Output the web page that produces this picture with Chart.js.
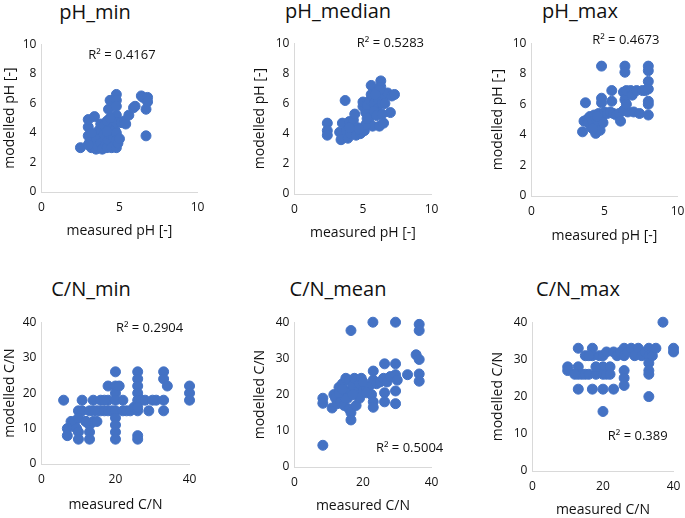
<!DOCTYPE html>
<html>
<head>
<meta charset="UTF-8">
<title>Measured vs modelled pH and C/N</title>
<script src="https://cdn.jsdelivr.net/npm/chart.js@4.4.0/dist/chart.umd.min.js"></script>
<style>
  html, body { margin: 0; padding: 0; background: #fff; overflow: hidden; }
  body { width: 685px; height: 518px; position: relative; font-family: 'Open Sans', sans-serif; }
  .box { position: absolute; }
  .ttl { position: absolute; font-size: 20px; line-height: 1; color: #111; white-space: nowrap; transform: translate(-50%, -50%); }
</style>
</head>
<body>
<script>
// ---- data ----
const panelTitles = ['pH_min', 'pH_median', 'pH_max', 'C/N_min', 'C/N_mean', 'C/N_max'];
const r2Labels = ['R² = 0.4167', 'R² = 0.5283', 'R² = 0.4673', 'R² = 0.2904', 'R² = 0.5004', 'R² = 0.389'];

const phXTicks = [0, 5, 10];
const phYTicks = [0, 2, 4, 6, 8, 10];
const cnXTicks = [0, 20, 40];
const cnYTicks = [0, 10, 20, 30, 40];

const phMinMeasured = [2.5, 3.0, 3.0, 3.0, 3.1, 3.2, 3.3, 3.4, 3.5, 3.5, 3.6, 3.7, 3.8, 3.8, 3.9, 4.0, 4.0, 4.1, 4.2, 4.2,
  4.3, 4.3, 4.4, 4.4, 4.5, 4.5, 4.6, 4.7, 4.8, 4.8, 4.8, 4.8, 4.8, 4.8, 4.8, 4.8, 4.9, 5.0, 5.1, 5.3,
  5.4, 5.6, 5.9, 6.0, 6.4, 6.5, 6.7, 6.8, 6.8, 6.7, 3.0, 3.2, 4.2, 4.4];
const phMinModelled = [3.0, 3.8, 4.4, 4.9, 3.4, 3.0, 3.2, 5.1, 2.9, 3.6, 3.1, 4.2, 4.6, 3.3, 2.9, 3.9, 4.5, 3.2, 3.0, 4.8,
  3.5, 5.6, 6.2, 3.9, 4.3, 3.0, 3.7, 4.2, 6.6, 6.2, 5.8, 5.2, 4.7, 4.0, 3.5, 3.0, 3.3, 3.6, 4.7, 4.8,
  4.6, 5.2, 5.7, 5.8, 6.5, 6.4, 5.6, 6.4, 6.1, 3.8, 3.2, 4.0, 4.1, 5.0];

const phMedMeasured = [2.4, 2.4, 2.4, 3.3, 3.4, 3.5, 3.7, 3.8, 3.9, 4.0, 4.1, 4.2, 4.3, 4.4, 4.5, 4.6, 4.8, 4.9, 5.0, 5.0,
  5.1, 5.2, 5.3, 5.4, 5.5, 5.5, 5.6, 5.6, 5.7, 5.8, 5.9, 6.0, 6.0, 6.1, 6.2, 6.3, 6.3, 6.4, 6.5, 6.6,
  6.8, 7.0, 7.1, 7.3, 5.2, 4.0, 5.8, 6.2, 5.3, 4.7, 6.0, 6.6, 5.9, 6.4];
const phMedModelled = [4.7, 4.2, 3.9, 4.1, 3.6, 4.7, 6.2, 4.2, 3.7, 4.8, 4.0, 4.5, 4.9, 5.3, 3.9, 4.4, 4.0, 4.1, 5.8, 6.1,
  4.2, 5.4, 5.9, 4.8, 6.2, 5.1, 7.2, 6.6, 4.5, 6.0, 5.3, 6.8, 5.6, 6.3, 4.5, 7.5, 7.1, 6.0, 4.7, 6.5,
  6.7, 5.4, 6.5, 6.6, 4.6, 4.4, 5.5, 6.9, 5.0, 4.3, 5.2, 6.0, 6.6, 5.3];

const phMaxMeasured = [3.5, 3.6, 3.7, 3.8, 3.9, 4.0, 4.1, 4.2, 4.3, 4.4, 4.4, 4.5, 4.6, 4.7, 4.8, 4.8, 4.8, 4.8, 4.9, 5.0,
  5.2, 5.4, 5.5, 5.5, 5.6, 5.8, 6.0, 6.1, 6.3, 6.3, 6.4, 6.4, 6.4, 6.5, 6.6, 6.8, 6.9, 7.0, 7.2, 7.4,
  7.6, 7.8, 8.0, 8.0, 8.0, 8.0, 8.0, 8.0, 8.0, 4.5, 4.2, 6.5];
const phMaxModelled = [4.2, 4.9, 6.1, 5.0, 4.8, 5.2, 4.5, 4.9, 5.3, 4.1, 5.1, 4.6, 5.4, 4.3, 8.5, 6.4, 6.1, 5.0, 4.8, 5.5,
  5.4, 5.5, 6.9, 6.2, 5.4, 5.3, 5.4, 4.9, 5.6, 6.8, 8.5, 8.1, 6.3, 6.9, 5.5, 6.9, 6.6, 5.5, 6.9, 5.4,
  6.9, 6.9, 8.5, 8.2, 7.5, 7.0, 6.2, 6.0, 5.3, 5.2, 4.4, 6.0];

const cnMinMeasured = [6, 7, 7, 8, 8.5, 9, 9.5, 10, 10, 10, 11, 11, 12, 13, 13, 13, 13, 14, 14, 15,
  15, 16, 16, 17, 18, 18, 18, 19, 20, 20, 20, 20, 20, 20, 20, 20, 20, 21, 22, 23,
  24, 25, 26, 26, 26, 26, 26, 26, 26, 26, 27, 28, 29, 31, 33, 33, 33, 33, 34, 40,
  40, 40, 10, 12, 14, 17, 22, 26, 30];
const cnMinModelled = [18, 10, 8, 12, 11, 12, 10, 15, 9, 7, 18, 15, 12, 15, 11, 9, 7, 18, 12, 12,
  15, 18, 15, 15, 22, 18, 15, 15, 26, 22, 20, 18, 15, 13, 11, 9, 7, 22, 15, 15,
  15, 16, 26, 24, 22, 20, 18, 15, 8, 7, 18, 18, 15, 18, 26, 24, 18, 15, 22, 22,
  20, 18, 13, 12, 15, 18, 18, 16, 18];

const cnMeanMeasured = [8.3, 8.3, 8.3, 11, 11.5, 12, 12.5, 13, 13.5, 14, 14, 14.5, 15, 15, 15.5, 16, 16, 16.5, 16.5, 16.5,
  17, 17.5, 18, 18.5, 19, 19.5, 20, 21, 22, 22.5, 22.9, 23, 23, 23, 23, 24, 25, 26, 26.3, 26.3,
  26.3, 27, 28, 29.5, 29.5, 29.5, 29.5, 29.5, 30, 33, 35.5, 36.4, 36.4, 36.4, 36.4, 36.4, 15, 19, 13, 21,
  17, 14, 20];
const cnMeanModelled = [6, 19, 17.6, 16.3, 20, 19, 17.5, 22, 18, 23, 20, 17, 24.5, 21, 19, 24, 16, 37.7, 15, 13,
  22.5, 24.5, 17, 21, 23, 24.5, 21, 22, 22.5, 20, 40, 26.5, 24, 18, 16.5, 23, 23.5, 24.5, 28.5, 20.5,
  18, 23.5, 25, 40, 28.5, 25.5, 21, 17.5, 24, 25.5, 31, 39.4, 37.7, 29.7, 25.7, 23.7, 19, 19, 20.5, 20.5,
  20, 21.5, 23.5];

const cnMaxMeasured = [10, 10, 13, 13, 13, 13, 14, 15, 15, 16, 17, 17, 17, 18, 19, 20, 20, 20, 20, 20,
  21, 21, 22, 22, 23, 23, 24, 25, 26, 26, 26, 26, 26, 27, 28, 29, 30, 31, 32, 33,
  33, 33, 33, 33, 33, 34, 35, 37, 40, 40, 12, 18, 16];
const cnMaxModelled = [28, 27, 33, 28, 26, 22, 26, 31, 26, 26, 33, 31, 22, 26, 31, 31, 28, 26, 22, 16,
  32, 26, 28, 26, 32, 22, 31, 32, 33, 31, 27, 25, 23, 32, 33, 31, 33, 31, 32, 33,
  31, 29, 27, 26, 20, 31, 33, 40, 33, 32, 26, 28, 31];

// ---- layout of the six panels (pixels in the 685x518 page) ----
// L/R/T/B = plot area, yt = centre of y title, xt = centre of x title, tx/ty = panel title centre
// rx/ry = R² label centre as a fraction of the plot area
const frames = [
  {L: 41,  R: 198, T: 44,  B: 192, yt: 10,  xt: 231, tx: 95,  ty: 12,  rx: 0.516, ry: 0.074},
  {L: 294, R: 432, T: 43,  B: 194, yt: 260, xt: 233, tx: 338, ty: 11,  rx: 0.70,  ry: 0.0},
  {L: 531, R: 678, T: 43,  B: 196, yt: 498, xt: 236, tx: 580, ty: 11,  rx: 0.646, ry: -0.02},
  {L: 41,  R: 190, T: 322, B: 464, yt: 10,  xt: 505, tx: 91,  ty: 289, rx: 0.73,  ry: 0.042},
  {L: 294, R: 432, T: 322, B: 467, yt: 260, xt: 506, tx: 338, ty: 289, rx: 0.84,  ry: 0.87},
  {L: 532, R: 674, T: 322, B: 471, yt: 498, xt: 510, tx: 578, ty: 289, rx: 0.746, ry: 0.765}
];

const panels = [
  {xs: phMinMeasured,  ys: phMinModelled,  xt: phXTicks, yt: phYTicks, xl: 'measured pH [-]', yl: 'modelled pH [-]'},
  {xs: phMedMeasured,  ys: phMedModelled,  xt: phXTicks, yt: phYTicks, xl: 'measured pH [-]', yl: 'modelled pH [-]'},
  {xs: phMaxMeasured,  ys: phMaxModelled,  xt: phXTicks, yt: phYTicks, xl: 'measured pH [-]', yl: 'modelled pH [-]'},
  {xs: cnMinMeasured,  ys: cnMinModelled,  xt: cnXTicks, yt: cnYTicks, xl: 'measured C/N', yl: 'modelled C/N'},
  {xs: cnMeanMeasured, ys: cnMeanModelled, xt: cnXTicks, yt: cnYTicks, xl: 'measured C/N', yl: 'modelled C/N'},
  {xs: cnMaxMeasured,  ys: cnMaxModelled,  xt: cnXTicks, yt: cnYTicks, xl: 'measured C/N', yl: 'modelled C/N'}
];

const FONT = "'Open Sans', sans-serif";
const TEXT = '#111';
const AXIS = '#d9d9d9';
const DOT = '#4472c4';
const PAD_T = 12, PAD_R = 14, HALF_TITLE = 8.4;

Chart.defaults.font.family = FONT;

// draws the R² text inside the plot area
const r2Plugin = {
  id: 'r2',
  afterDraw(chart, args, opts) {
    const a = chart.chartArea;
    const ctx = chart.ctx;
    ctx.save();
    ctx.font = '13px ' + FONT;
    ctx.fillStyle = TEXT;
    ctx.textAlign = 'center';
    ctx.textBaseline = 'middle';
    ctx.fillText(opts.text, a.left + opts.fx * (a.right - a.left), a.top + opts.fy * (a.bottom - a.top));
    ctx.restore();
  }
};

panels.forEach((p, i) => {
  const f = frames[i];
  const left = f.yt - HALF_TITLE;
  const top = f.T - PAD_T;
  const bottom = f.xt + HALF_TITLE;
  const width = f.R + PAD_R - left;
  const height = bottom - top;

  const box = document.createElement('div');
  box.className = 'box';
  box.style.left = left + 'px';
  box.style.top = top + 'px';
  box.style.width = width + 'px';
  box.style.height = height + 'px';
  const cv = document.createElement('canvas');
  box.appendChild(cv);
  document.body.appendChild(box);

  const ttl = document.createElement('div');
  ttl.className = 'ttl';
  ttl.style.left = f.tx + 'px';
  ttl.style.top = f.ty + 'px';
  ttl.textContent = panelTitles[i];
  document.body.appendChild(ttl);

  const yw = f.L - left;
  const xh = bottom - f.B;
  const xMax = p.xt[p.xt.length - 1];
  const yMax = p.yt[p.yt.length - 1];

  new Chart(cv, {
    type: 'scatter',
    data: {
      datasets: [{
        data: p.xs.map((x, k) => ({x: x, y: p.ys[k]})),
        backgroundColor: DOT,
        borderColor: DOT,
        pointRadius: 5,
        borderWidth: 1,
        clip: false
      }]
    },
    options: {
      responsive: true,
      maintainAspectRatio: false,
      animation: false,
      layout: {padding: {left: 0, top: PAD_T, right: PAD_R, bottom: 0}},
      plugins: {
        legend: {display: false},
        tooltip: {enabled: false},
        r2: {text: r2Labels[i], fx: f.rx, fy: f.ry}
      },
      scales: {
        x: {
          type: 'linear', min: 0, max: xMax,
          afterBuildTicks: s => { s.ticks = p.xt.map(v => ({value: v})); },
          afterFit: s => { s.height = xh; },
          grid: {display: false, drawTicks: false},
          border: {display: true, color: AXIS, width: 1},
          ticks: {padding: 8, color: TEXT, font: {size: 12}, maxRotation: 0},
          title: {display: true, text: p.xl, color: TEXT, padding: 0, font: {size: 14}}
        },
        y: {
          type: 'linear', min: 0, max: yMax,
          afterBuildTicks: s => { s.ticks = p.yt.map(v => ({value: v})); },
          afterFit: s => { s.width = yw; },
          grid: {display: false, drawTicks: false},
          border: {display: true, color: AXIS, width: 1},
          ticks: {padding: 5, color: TEXT, font: {size: 12}},
          title: {display: true, text: p.yl, color: TEXT, padding: 0, font: {size: 14}}
        }
      }
    },
    plugins: [r2Plugin]
  });
});
</script>
</body>
</html>
